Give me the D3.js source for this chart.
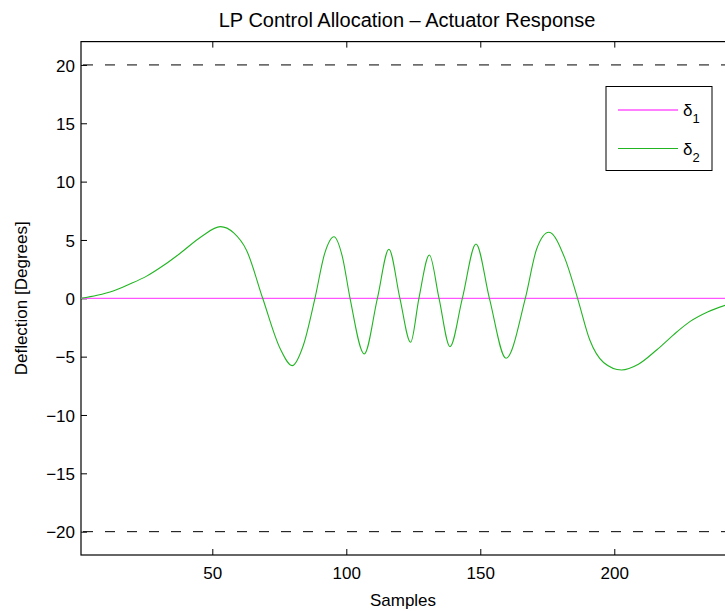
<!DOCTYPE html>
<meta charset="utf-8">
<style>
body { margin: 0; background: #fff; }
svg { font-family: 'Liberation Sans', Arial, sans-serif; }
.tick text { font-size: 17px; fill: #000; }
</style>
<svg id="chart" width="725" height="611"></svg>
<script src="https://d3js.org/d3.v7.min.js"></script>
<script>

// samples
var samples = [1, 7, 13, 19, 25.5, 32, 38, 46, 53, 58, 62.8, 68.8, 75.3, 79.8, 84, 88.3, 92, 95.4, 98.5, 101.4, 106.7, 111.6, 115.9, 120, 124, 127.1, 131, 134.6, 138.7, 143.3, 148.4, 153.4, 159.6, 166.8, 171, 175.6, 181.6, 186.3, 190.9, 196, 202.7, 209, 215.8, 222, 228.2, 235, 242];
var delta2 = [0, 0.26, 0.63, 1.2, 1.9, 2.85, 3.86, 5.3, 6.14, 5.6, 4.1, 0, -4.3, -5.77, -4.0, 0, 3.9, 5.28, 3.6, 0, -4.77, 0, 4.2, 0, -3.77, 0, 3.71, 0, -4.14, 0, 4.65, 0, -5.14, 0, 4.2, 5.66, 3.4, 0, -3.6, -5.5, -6.14, -5.65, -4.43, -3.15, -2.0, -1.15, -0.55];
var delta1 = samples.map(function() { return 0; });

var limits = [20, -20];
var yTicks = [-20, -15, -10, -5, 0, 5, 10, 15, 20];
var xTicks = [50, 100, 150, 200];
var legendLabels = ["1", "2"];

var svg = d3.select("#chart");
var pLeft = 81, pRight = 733, pTop = 41.6, pBottom = 555;

var x = d3.scaleLinear().domain([1, 244.3]).range([pLeft, pRight]);
var y = d3.scaleLinear().domain([-22, 22]).range([pBottom, pTop]);

var fmt = function(d) { return d < 0 ? "\u2212" + Math.abs(d) : d; };

// axes, ticks pointing inward like matlab
var gx = svg.append("g").attr("transform", "translate(0," + pBottom + ")")
    .call(d3.axisBottom(x).tickValues(xTicks).tickSize(-6).tickPadding(12));
var gxt = svg.append("g").attr("transform", "translate(0," + pTop + ")")
    .call(d3.axisTop(x).tickValues(xTicks).tickSize(-6).tickFormat(""));
var gy = svg.append("g").attr("transform", "translate(" + pLeft + ",0)")
    .call(d3.axisLeft(y).tickValues(yTicks).tickSize(-6).tickPadding(6).tickFormat(fmt));

[gx, gxt, gy].forEach(function(g) {
  g.select(".domain").remove();
  g.selectAll(".tick line").attr("stroke", "#000");
});
gy.selectAll(".tick text").attr("dy", "0.36em");

svg.append("rect")
    .attr("x", pLeft).attr("y", pTop)
    .attr("width", pRight - pLeft).attr("height", pBottom - pTop)
    .attr("fill", "none").attr("stroke", "#000").attr("stroke-width", 1.2);

// actuator limits
svg.selectAll(".limit").data(limits).enter().append("line")
    .attr("class", "limit")
    .attr("x1", pLeft + 2).attr("x2", pRight)
    .attr("y1", function(d) { return y(d); })
    .attr("y2", function(d) { return y(d); })
    .attr("stroke", "#000").attr("stroke-dasharray", "10,12");

var line = d3.line()
    .x(function(d, i) { return x(samples[i]); })
    .y(function(d) { return y(d); })
    .curve(d3.curveMonotoneX);

svg.append("path").datum(delta1).attr("d", line)
    .attr("fill", "none").attr("stroke", "#ff55ff").attr("stroke-width", 1.3);
svg.append("path").datum(delta2).attr("d", line)
    .attr("fill", "none").attr("stroke", "#22b522").attr("stroke-width", 1.1);

// legend
var colors = ["#ff55ff", "#22b522"];
var lg = svg.append("g");
lg.append("rect").attr("x", 606).attr("y", 86.5).attr("width", 106).attr("height", 84)
    .attr("fill", "#fff").attr("stroke", "#000").attr("stroke-width", 1);
legendLabels.forEach(function(s, i) {
  var ly = 110 + i * 38.5;
  lg.append("line").attr("x1", 618).attr("x2", 678).attr("y1", ly).attr("y2", ly)
      .attr("stroke", colors[i]).attr("stroke-width", i == 0 ? 1.3 : 1.1);
  var t = lg.append("text").attr("x", 683).attr("y", ly + 6).attr("font-size", 17);
  t.append("tspan").text("\u03b4");
  t.append("tspan").attr("dy", 7).attr("font-size", 13).text(s);
});

svg.append("text").attr("x", 407).attr("y", 27).attr("text-anchor", "middle")
    .attr("font-size", 20).text("LP Control Allocation \u2013 Actuator Response");
svg.append("text").attr("x", 403).attr("y", 606).attr("text-anchor", "middle")
    .attr("font-size", 17).text("Samples");
svg.append("text").attr("transform", "translate(27," + y(0) + ") rotate(-90)")
    .attr("text-anchor", "middle").attr("font-size", 17).text("Deflection [Degrees]");

</script>
